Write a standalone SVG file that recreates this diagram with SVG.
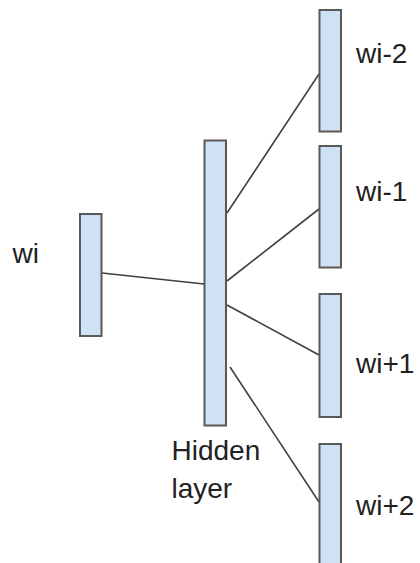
<svg xmlns="http://www.w3.org/2000/svg" width="420" height="563" viewBox="0 0 420 563">
  <style>
    .layer { fill: #cfe2f3; stroke: #595959; stroke-width: 2; }
    .edge { stroke: #404040; stroke-width: 1.6; fill: none; }
    .label { font-family: "Liberation Sans", Arial, sans-serif; font-size: 28px; fill: #222; }
  </style>
  <rect width="420" height="563" fill="#ffffff"/>

  <!-- connectors between the layers -->
  <g id="connectors">
    <line class="edge" x1="102" y1="273" x2="204" y2="284"/>
    <line class="edge" x1="227" y1="213" x2="319" y2="74"/>
    <line class="edge" x1="227" y1="281" x2="319" y2="209"/>
    <line class="edge" x1="227" y1="305" x2="319" y2="355"/>
    <line class="edge" x1="230" y1="367" x2="319" y2="502"/>
  </g>

  <!-- input word -->
  <g id="input">
    <rect class="layer" x="80" y="214" width="21.5" height="122"/>
    <text class="label" x="12.5" y="263">wi</text>
  </g>

  <!-- hidden layer -->
  <g id="hidden">
    <rect class="layer" x="204.5" y="140.5" width="21.5" height="285"/>
    <text class="label" x="171.5" y="460">Hidden</text>
    <text class="label" x="171.5" y="498">layer</text>
  </g>

  <!-- context word outputs -->
  <g id="out-minus-2">
    <rect class="layer" x="319.5" y="10" width="21.5" height="121.5"/>
    <text class="label" x="356" y="63">wi-2</text>
  </g>
  <g id="out-minus-1">
    <rect class="layer" x="319.5" y="146" width="21.5" height="121.5"/>
    <text class="label" x="356" y="201">wi-1</text>
  </g>
  <g id="out-plus-1">
    <rect class="layer" x="319.5" y="294" width="21.5" height="123"/>
    <text class="label" x="356" y="373">wi+1</text>
  </g>
  <g id="out-plus-2">
    <rect class="layer" x="319.5" y="444" width="21.5" height="130"/>
    <text class="label" x="356" y="515">wi+2</text>
  </g>
</svg>
